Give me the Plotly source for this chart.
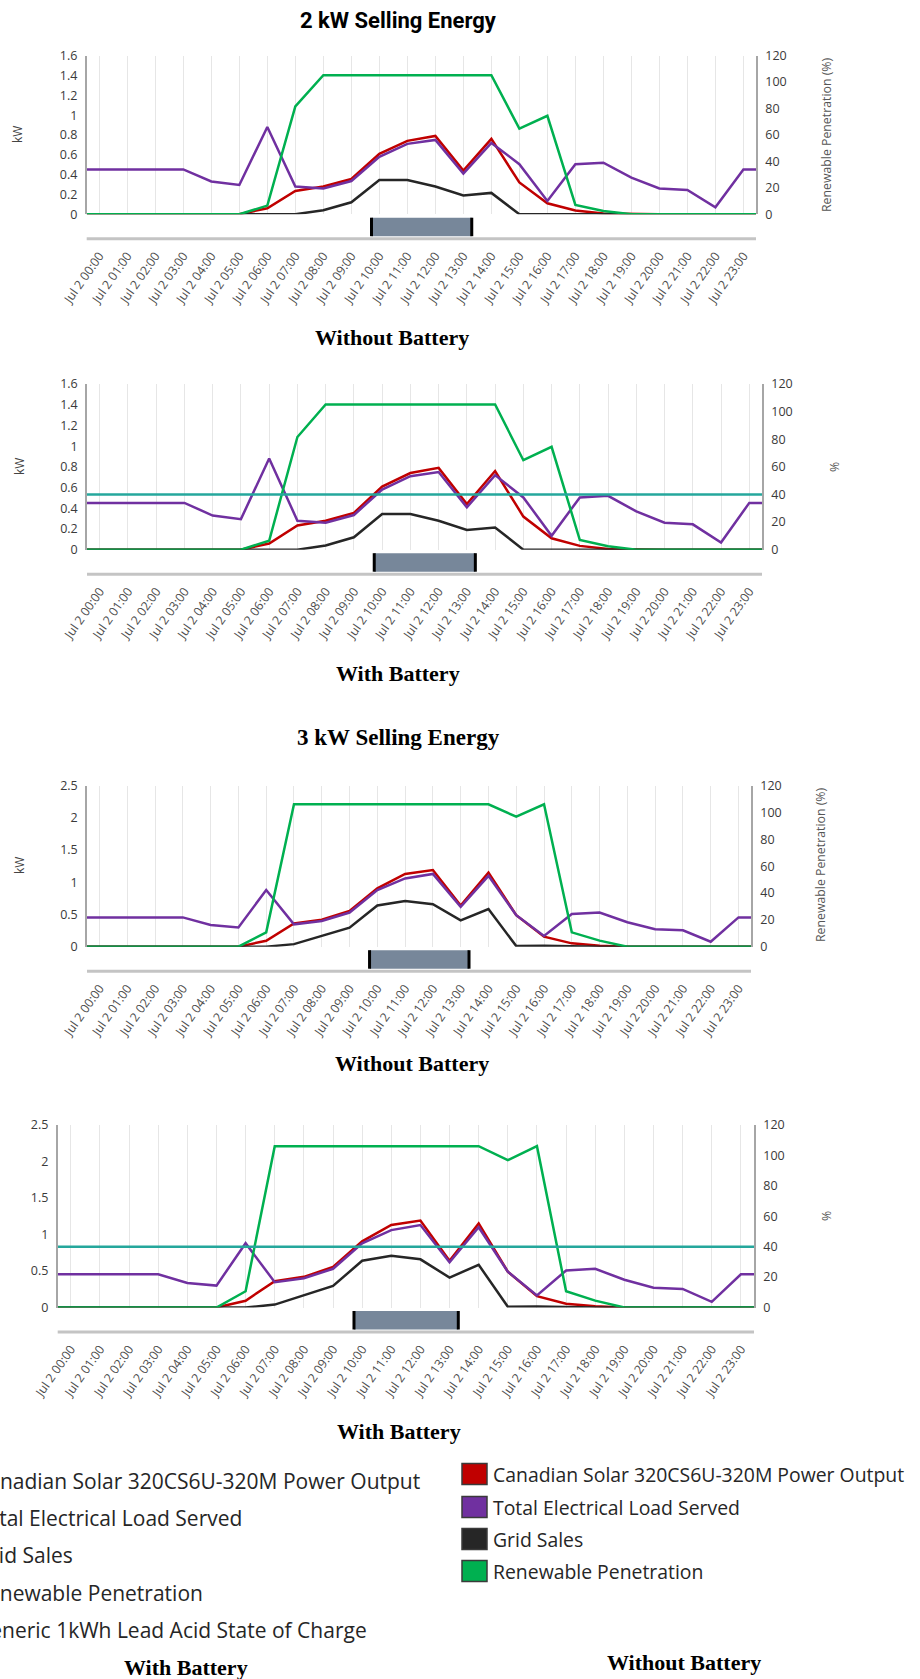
import plotly.graph_objects as go

W, H = 920, 1679
SANS = "Open Sans, Noto Sans, sans-serif"
SERIF = "Liberation Serif, Times New Roman, serif"
TITLE_SANS = "Liberation Sans Narrow, Roboto, sans-serif"

# ---------------------------------------------------------------- data
hours = list(range(24))
hour_labels = [f"Jul 2 {h:02d}:00" for h in hours]

# 2 kW selling limit (kW, kW, kW, %)
pv_2kw = [0, 0, 0, 0, 0, 0, 0.06, 0.234, 0.28, 0.355, 0.61, 0.74,
          0.79, 0.44, 0.76, 0.32, 0.11, 0.037, 0.007, 0, 0, 0, 0, 0]
load_2kw = [0.452, 0.452, 0.452, 0.452, 0.33, 0.295, 0.88, 0.28, 0.26, 0.335, 0.58, 0.71,
            0.75, 0.41, 0.72, 0.505, 0.134, 0.505, 0.52, 0.37, 0.26, 0.245, 0.07, 0.452]
sales_2kw = [0, 0, 0, 0, 0, 0, 0, 0, 0.04, 0.12, 0.345, 0.345,
             0.28, 0.19, 0.215, 0, 0, 0, 0, 0, 0, 0, 0, 0]
renew_2kw = [0, 0, 0, 0, 0, 0, 6.5, 81.6, 105.2, 105.2, 105.2, 105.2,
             105.2, 105.2, 105.2, 64.8, 74.5, 7.0, 2.5, 0, 0, 0, 0, 0]
soc_2kw = [40, 40, 40, 40, 40, 40, 40, 40, 40, 40, 40, 40,
           40, 40, 40, 40, 40, 40, 40, 40, 40, 40, 40, 40]

# 3 kW selling limit
pv_3kw = [0, 0, 0, 0, 0, 0, 0.093, 0.36, 0.42, 0.554, 0.906, 1.13,
          1.19, 0.64, 1.15, 0.49, 0.155, 0.052, 0.016, 0, 0, 0, 0, 0]
load_3kw = [0.455, 0.455, 0.455, 0.455, 0.336, 0.30, 0.88, 0.347, 0.40, 0.53, 0.88, 1.06,
            1.13, 0.62, 1.10, 0.49, 0.166, 0.507, 0.53, 0.38, 0.27, 0.254, 0.078, 0.455]
sales_3kw = [0, 0, 0, 0, 0, 0, 0, 0.04, 0.166, 0.295, 0.64, 0.71,
             0.66, 0.41, 0.585, 0.01, 0.015, 0.005, 0, 0, 0, 0, 0, 0]
renew_3kw = [0, 0, 0, 0, 0, 0, 10.7, 106.1, 106.1, 106.1, 106.1, 106.1,
             106.1, 106.1, 106.1, 96.9, 106.1, 10.7, 4.5, 0, 0, 0, 0, 0]
soc_3kw = [40, 40, 40, 40, 40, 40, 40, 40, 40, 40, 40, 40,
           40, 40, 40, 40, 40, 40, 40, 40, 40, 40, 40, 40]

# visible window of the range navigator (hours)
nav_window = [9.72, 13.3]

series_names = {
    "pv": "Canadian Solar 320CS6U-320M Power Output",
    "load": "Total Electrical Load Served",
    "sales": "Grid Sales",
    "renew": "Renewable Penetration",
    "soc": "Generic 1kWh Lead Acid State of Charge",
}
colors = {"pv": "#c00000", "load": "#7030a0", "sales": "#262626",
          "renew": "#00b050", "soc": "#25a79c"}

scenarios = [
    dict(pv=pv_2kw, load=load_2kw, sales=sales_2kw, renew=renew_2kw, soc=None, kw_max=1.6, kw_dtick=0.2),
    dict(pv=pv_2kw, load=load_2kw, sales=sales_2kw, renew=renew_2kw, soc=soc_2kw, kw_max=1.6, kw_dtick=0.2),
    dict(pv=pv_3kw, load=load_3kw, sales=sales_3kw, renew=renew_3kw, soc=None, kw_max=2.5, kw_dtick=0.5),
    dict(pv=pv_3kw, load=load_3kw, sales=sales_3kw, renew=renew_3kw, soc=soc_3kw, kw_max=2.5, kw_dtick=0.5),
]

# ---------------------------------------------------------------- panel geometry (px)
frames = [
    dict(x0=86.7, x1=756, yt=55.7, yb=214.2, kw_title=(18, 135), pct_title=(827, 135, "Renewable Penetration (%)")),
    dict(x0=87, x1=762, yt=384, yb=549.7, kw_title=(20, 467), pct_title=(835, 467, "%")),
    dict(x0=87, x1=751, yt=785.7, yb=946.7, kw_title=(19, 866), pct_title=(820, 865, "Renewable Penetration (%)")),
    dict(x0=57.7, x1=754, yt=1125, yb=1307.5, kw_title=None, pct_title=(826, 1216, "%")),
]

X_PAD = 0.45
x_range = [-X_PAD, 23 + X_PAD]
x_line = [x_range[0]] + hours + [x_range[1]]


def padded(vals):
    # the plotted lines run flat out to both edges of the plot area
    return [vals[0]] + list(vals) + [vals[-1]]


def px(x):
    return x / W


def py(y):
    return 1 - y / H


def note(text, x, y, font, xanchor="center", textangle=0):
    return dict(text=text, x=px(x), y=py(y), xref="paper", yref="paper",
                xanchor=xanchor, yanchor="middle", textangle=textangle,
                showarrow=False, font=font)


fig = go.Figure()
layout = dict(shapes=[], annotations=[])

for i, (sc, fr) in enumerate(zip(scenarios, frames)):
    xa = "x" if i == 0 else f"x{i + 1}"
    yl = "y" if i == 0 else f"y{2 * i + 1}"
    yr = f"y{2 * i + 2}"
    xkey = "xaxis" if i == 0 else f"xaxis{i + 1}"
    ylkey = "yaxis" if i == 0 else f"yaxis{2 * i + 1}"
    yrkey = f"yaxis{2 * i + 2}"

    for key in ["pv", "load", "sales"]:
        fig.add_trace(go.Scatter(x=x_line, y=padded(sc[key]), mode="lines", name=series_names[key],
                                 line=dict(color=colors[key], width=2.5), xaxis=xa, yaxis=yl,
                                 showlegend=False))
    fig.add_trace(go.Scatter(x=x_line, y=padded(sc["renew"]), mode="lines", name=series_names["renew"],
                             line=dict(color=colors["renew"], width=2.5), xaxis=xa, yaxis=yr,
                             showlegend=False))
    if sc["soc"] is not None:
        fig.add_trace(go.Scatter(x=x_line, y=padded(sc["soc"]), mode="lines", name=series_names["soc"],
                                 line=dict(color=colors["soc"], width=2.5), xaxis=xa, yaxis=yr,
                                 showlegend=False))

    layout[xkey] = dict(
        domain=[px(fr["x0"]), px(fr["x1"])], anchor=yl, range=x_range,
        tickmode="array", tickvals=hours, ticktext=hour_labels, tickangle=-55,
        showgrid=True, gridcolor="#e6e6e6", gridwidth=1, zeroline=False, showline=False,
        ticks="", ticklabelstandoff=31, automargin=False,
        tickfont=dict(family=SANS, size=12.3, color="#4d4d4d"),
    )
    layout[ylkey] = dict(
        domain=[py(fr["yb"]), py(fr["yt"])], anchor=xa, range=[0, sc["kw_max"]],
        dtick=sc["kw_dtick"], tick0=0, showgrid=False, zeroline=False, automargin=False,
        showline=True, linecolor="#a6a6a6", linewidth=1.5, ticks="", ticklabelstandoff=5,
        tickfont=dict(family=SANS, size=12.5, color="#3a3a3a"),
    )
    layout[yrkey] = dict(
        overlaying=yl, side="right", anchor=xa, range=[0, 120], dtick=20, tick0=0,
        showgrid=False, zeroline=False, showline=True, linecolor="#a6a6a6", linewidth=1.5,
        ticks="", ticklabelstandoff=5, automargin=False,
        tickfont=dict(family=SANS, size=12.5, color="#3a3a3a"),
    )

    # range navigator under each chart
    layout["shapes"].append(dict(type="line", xref="paper", yref="paper",
                                 x0=px(fr["x0"]), x1=px(fr["x1"]),
                                 y0=py(fr["yb"] + 24.5), y1=py(fr["yb"] + 24.5),
                                 line=dict(color="#c4c4c4", width=3)))
    layout["shapes"].append(dict(type="rect", xref=xa, yref="paper",
                                 x0=nav_window[0], x1=nav_window[1],
                                 y0=py(fr["yb"] + 22), y1=py(fr["yb"] + 3.5),
                                 fillcolor="#77879a", line=dict(width=0)))
    for edge in nav_window:
        layout["shapes"].append(dict(type="line", xref=xa, yref="paper", x0=edge, x1=edge,
                                     y0=py(fr["yb"] + 22), y1=py(fr["yb"] + 3.5),
                                     line=dict(color="#000000", width=3)))

    if fr["kw_title"]:
        kx, ky = fr["kw_title"]
        layout["annotations"].append(note("kW", kx, ky, dict(family=SANS, size=12, color="#444444"),
                                          textangle=-90))
    tx, ty, ttext = fr["pct_title"]
    layout["annotations"].append(note(ttext, tx, ty, dict(family=SANS, size=12.3, color="#555555"),
                                      textangle=-90))

# headings and captions
captions = [
    ("2 kW Selling Energy", 398, 20, TITLE_SANS, 22),
    ("Without Battery", 392, 337, SERIF, 22),
    ("With Battery", 398, 673, SERIF, 22),
    ("3 kW Selling Energy", 398, 737, SERIF, 23),
    ("Without Battery", 412, 1063, SERIF, 22),
    ("With Battery", 399, 1431, SERIF, 22),
    ("With Battery", 186, 1667, SERIF, 22),
    ("Without Battery", 684, 1662, SERIF, 22),
]
for text, cx, cy, fam, size in captions:
    layout["annotations"].append(note(f"<b>{text}</b>", cx, cy, dict(family=fam, size=size, color="#000000")))

# legend of the battery charts (left edge of the page trims its first letters)
left_keys = ["pv", "load", "sales", "renew", "soc"]
left_rows = [1481, 1518, 1555, 1593, 1630]
for key, ry in zip(left_keys, left_rows):
    layout["annotations"].append(note(series_names[key], -27, ry,
                                      dict(family=SANS, size=21, color="#262626"), xanchor="left"))

# legend of the no-battery charts
right_keys = ["pv", "load", "sales", "renew"]
right_rows = [1474, 1507, 1539, 1571]
for key, ry in zip(right_keys, right_rows):
    layout["shapes"].append(dict(type="rect", xref="paper", yref="paper",
                                 x0=px(462), x1=px(487), y0=py(ry + 10.5), y1=py(ry - 10.5),
                                 fillcolor=colors[key], line=dict(color="#3a3a3a", width=1.5)))
    layout["annotations"].append(note(series_names[key], 491, ry,
                                      dict(family=SANS, size=19.4, color="#262626"), xanchor="left"))

fig.update_layout(
    width=W, height=H, margin=dict(l=0, r=0, t=0, b=0, autoexpand=False),
    paper_bgcolor="white", plot_bgcolor="white", showlegend=False,
    **layout,
)

fig.write_html("out.html")
